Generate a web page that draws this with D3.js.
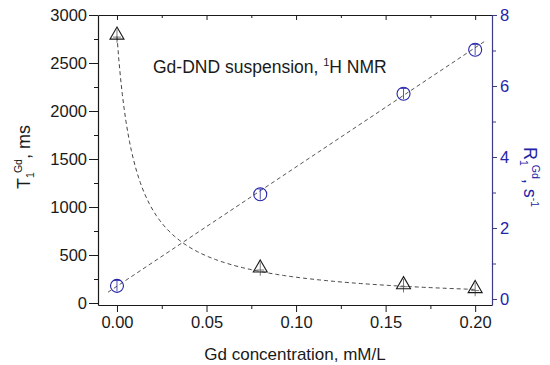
<!DOCTYPE html>
<html>
<head>
<meta charset="utf-8">
<script src="https://cdn.jsdelivr.net/npm/d3@7"></script>
<style>
  body { margin: 0; background: #fff; }
  svg { font-family: "Liberation Sans", Arial, sans-serif; }
</style>
</head>
<body>
<svg id="chart" width="550" height="365"></svg>
<script>
// Data
var conc = [0.00, 0.08, 0.16, 0.20];            // Gd concentration, mM/L
var t1 = [2780, 354, 180, 140];                 // T1 Gd, ms (triangles)
var t1Err = [70, 70, 70, 70];
var r1 = [0.37, 2.95, 5.78, 7.02];              // R1 Gd, s^-1 (circles)
var r1Err = [0.15, 0.15, 0.15, 0.15];
var fitR = [0.36, 33.6];                        // R1 = a + b*c  (linear fit)
var xTicks = [0, 0.05, 0.10, 0.15, 0.20];
var xMinor = [0.025, 0.075, 0.125, 0.175];
var yLeftTicks = [0, 500, 1000, 1500, 2000, 2500, 3000];
var yLeftMinor = [250, 750, 1250, 1750, 2250, 2750];
var yRightTicks = [0, 2, 4, 6, 8];
var yRightMinor = [1, 3, 5, 7];

var svg = d3.select('#chart');
var pLeft = 98, pRight = 492, pTop = 15, pBottom = 305;
var black = '#1a1a1a';
var blue = '#2424a8';
var blueAxis = '#3a3a86';
var font = '"Liberation Sans", Arial, sans-serif';

var x = d3.scaleLinear().domain([-0.0106, 0.2094]).range([pLeft, pRight]);
var yL = d3.scaleLinear().domain([-20.8, 3000]).range([pBottom, pTop]);
var yR = d3.scaleLinear().domain([-0.169, 8]).range([pBottom, pTop]);

// Bottom axis
svg.append('g').attr('transform', 'translate(0,' + pBottom + ')')
    .call(d3.axisBottom(x).tickValues(xTicks).tickFormat(d3.format('.2f'))
        .tickSizeInner(7).tickSizeOuter(0).tickPadding(4));
svg.append('g').attr('transform', 'translate(0,' + pBottom + ')')
    .call(d3.axisBottom(x).tickValues(xMinor).tickSize(4).tickFormat(''))
    .select('.domain').remove();

// Top axis: ticks pointing inward
svg.append('g').attr('transform', 'translate(0,' + pTop + ')')
    .call(d3.axisBottom(x).tickValues(xTicks).tickSize(5).tickFormat('').tickSizeOuter(0));
svg.append('g').attr('transform', 'translate(0,' + pTop + ')')
    .call(d3.axisBottom(x).tickValues(xMinor).tickSize(3).tickFormat(''))
    .select('.domain').remove();

// Left axis
svg.append('g').attr('transform', 'translate(' + pLeft + ',0)')
    .call(d3.axisLeft(yL).tickValues(yLeftTicks).tickFormat(d3.format('d'))
        .tickSizeInner(9).tickSizeOuter(0).tickPadding(2));
svg.append('g').attr('transform', 'translate(' + pLeft + ',0)')
    .call(d3.axisLeft(yL).tickValues(yLeftMinor).tickSize(4).tickFormat(''))
    .select('.domain').remove();

// Right axis (blue)
var gyR = svg.append('g').attr('transform', 'translate(' + pRight + ',0)')
    .call(d3.axisRight(yR).tickValues(yRightTicks).tickFormat(d3.format('d'))
        .tickSizeInner(5).tickSizeOuter(0).tickPadding(3));
var gyRm = svg.append('g').attr('transform', 'translate(' + pRight + ',0)')
    .call(d3.axisRight(yR).tickValues(yRightMinor).tickSize(4).tickFormat(''));
gyRm.select('.domain').remove();

svg.selectAll('.domain').attr('stroke', black).attr('stroke-width', 1.2);
svg.selectAll('.tick line').attr('stroke', black);
gyR.select('.domain').attr('stroke', blueAxis);
gyR.selectAll('.tick line').attr('stroke', blueAxis);
gyRm.selectAll('.tick line').attr('stroke', blueAxis);

svg.selectAll('g').attr('font-size', null).attr('font-family', null);
svg.selectAll('.tick text').attr('font-size', 16.5).attr('font-family', font).attr('fill', black);
gyR.selectAll('.tick text').attr('fill', blue);

// Fit lines
var lineR = d3.line().x(function(d) { return x(d); })
    .y(function(d) { return yR(fitR[0] + fitR[1] * d); });
svg.append('path').datum([-0.005, 0.205]).attr('d', lineR)
    .attr('fill', 'none').attr('stroke', '#555').attr('stroke-width', 1).attr('stroke-dasharray', '4,3');

var curveSteps = d3.range(0, 0.2001, 0.001);
var lineT = d3.line().x(function(d) { return x(d); })
    .y(function(d) { return yL(1000 / (fitR[0] + fitR[1] * d)); });
svg.append('path').datum(curveSteps).attr('d', lineT)
    .attr('fill', 'none').attr('stroke', '#444').attr('stroke-width', 1).attr('stroke-dasharray', '4,3');

// Triangles with error crosses
var tri = d3.symbol().type(d3.symbolTriangle).size(85);
conc.forEach(function(c, i) {
    var cx = x(c), cy = yL(t1[i]);
    var g = svg.append('g');
    g.append('line').attr('x1', cx).attr('x2', cx).attr('y1', yL(t1[i] - t1Err[i])).attr('y2', yL(t1[i] + t1Err[i]))
        .attr('stroke', '#555').attr('stroke-width', 0.8);
    g.append('line').attr('x1', cx - 4).attr('x2', cx + 4).attr('y1', cy + 1).attr('y2', cy + 1)
        .attr('stroke', '#555').attr('stroke-width', 0.8);
    g.append('path').attr('d', tri).attr('transform', 'translate(' + cx + ',' + (cy - 1) + ')')
        .attr('fill', 'none').attr('stroke', black).attr('stroke-width', 1.1);
});

// Circles with error bars
conc.forEach(function(c, i) {
    var cx = x(c), cy = yR(r1[i]);
    svg.append('line').attr('x1', cx).attr('x2', cx).attr('y1', yR(r1[i] - r1Err[i])).attr('y2', yR(r1[i] + r1Err[i]))
        .attr('stroke', blue).attr('stroke-width', 0.8);
    svg.append('line').attr('x1', cx - 3).attr('x2', cx + 3).attr('y1', yR(r1[i] + r1Err[i])).attr('y2', yR(r1[i] + r1Err[i]))
        .attr('stroke', blue).attr('stroke-width', 0.8);
    svg.append('circle').attr('cx', cx).attr('cy', cy).attr('r', 6.5)
        .attr('fill', 'none').attr('stroke', blue).attr('stroke-width', 1.1);
});

// Annotation
var note = svg.append('text').attr('x', 153).attr('y', 73).attr('font-size', 17.5).attr('fill', black);
note.append('tspan').text('Gd-DND suspension, ');
note.append('tspan').attr('font-size', 11).attr('dy', -7).text('1');
note.append('tspan').attr('dy', 7).text('H NMR');

// X title
svg.append('text').attr('x', 295).attr('y', 360).attr('text-anchor', 'middle')
    .attr('font-size', 17).attr('fill', black).text('Gd concentration, mM/L');

// Left title
var tl = svg.append('text').attr('transform', 'translate(30,157) rotate(-90)')
    .attr('text-anchor', 'middle').attr('font-size', 18).attr('fill', black);
tl.append('tspan').text('T');
tl.append('tspan').attr('font-size', 10.5).attr('dy', 4).text('1');
tl.append('tspan').attr('font-size', 10.5).attr('dy', -12).attr('dx', -1).text('Gd');
tl.append('tspan').attr('dy', 8).text(', ms');

// Right title
var tr = svg.append('text').attr('transform', 'translate(524,177) rotate(90)')
    .attr('text-anchor', 'middle').attr('font-size', 18).attr('fill', blue);
tr.append('tspan').text('R');
tr.append('tspan').attr('font-size', 10.5).attr('dy', 4).text('1');
tr.append('tspan').attr('font-size', 10.5).attr('dy', -12).attr('dx', -1).text('Gd');
tr.append('tspan').attr('dy', 8).text(', s');
tr.append('tspan').attr('font-size', 10.5).attr('dy', -7).text('-1');
</script>
</body>
</html>
